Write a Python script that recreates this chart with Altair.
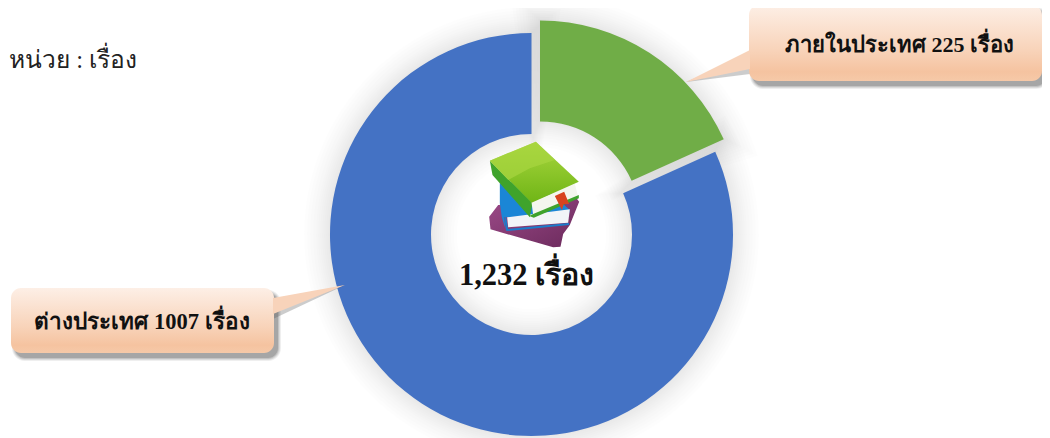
import base64
import altair as alt
import pandas as pd

# ---- chart values ----
categories = ["ภายในประเทศ", "ต่างประเทศ"]
values = [225, 1007]
total_label = "1,232 เรื่อง"
unit_label = "หน่วย : เรื่อง"
callout_labels = ["ภายในประเทศ 225 เรื่อง", "ต่างประเทศ 1007 เรื่อง"]
slice_colors = ["#70AD47", "#4472C4"]

W, H = 1034, 430
OFF = 8  # page margin: layout positions below are in page pixels
FONT = "Liberation Serif"

X = alt.X("x:Q", scale=alt.Scale(domain=[OFF, W + OFF], range=[0, W]), axis=None)
Y = alt.Y("y:Q", scale=alt.Scale(domain=[OFF, H + OFF], range=[0, H]), axis=None)

total = sum(values)
full = 6.283185307
a = values[0] / total * full

layout = {"green": (540, 222), "blue": (531.5, 234.5)}
R_OUT, R_IN = 201.5, 100.5

slices = pd.DataFrame([
    {"cat": categories[0], "value": values[0], "x": layout["green"][0], "y": layout["green"][1],
     "t0": 0.0, "t1": a},
    {"cat": categories[1], "value": values[1], "x": layout["blue"][0], "y": layout["blue"][1],
     "t0": a, "t1": full},
])


def arc_layer(grow, opacity, color=None):
    d = slices.copy()
    pad = grow / R_OUT
    d["t0"] = d["t0"] - pad
    d["t1"] = d["t1"] + pad
    mark = alt.Chart(d).mark_arc(
        radius=R_OUT + grow, radius2=max(R_IN - grow, 0), opacity=opacity,
        **({"color": color} if color else {}),
    )
    enc = dict(x=X, y=Y, theta=alt.Theta("t0:Q", scale=None), theta2="t1:Q")
    if not color:
        enc["color"] = alt.Color("cat:N", scale=alt.Scale(domain=categories, range=slice_colors), legend=None)
    return mark.encode(**enc)


# soft halo behind the doughnut
halo = [arc_layer(g, 0.0085, "#000000") for g in (26, 23, 20, 17, 14, 12, 10, 8, 6, 4, 2, 1)]
main = arc_layer(0, 1)


def shadow_rect(x0, x1, y0, y1, dx, dy):
    layers = []
    for g, op in ((3, 0.08), (2, 0.10), (1, 0.14), (0, 0.2)):
        d = pd.DataFrame({"x": [x0 + dx - g], "x2": [x1 + dx + g], "y": [y0 + dy - g], "y2": [y1 + dy + g]})
        layers.append(
            alt.Chart(d).mark_rect(color="#333333", opacity=op, cornerRadius=10 + g)
            .encode(x=X, x2="x2:Q", y=Y, y2="y2:Q")
        )
    return layers


grad = alt.Gradient(
    gradient="linear", x1=0, y1=0, x2=0, y2=1,
    stops=[
        alt.GradientStop(color="#FDEFE6", offset=0),
        alt.GradientStop(color="#F8D3B9", offset=0.6),
        alt.GradientStop(color="#F5C3A0", offset=0.88),
        alt.GradientStop(color="#F6C9A8", offset=1),
    ],
)


def callout(x0, x1, y0, y1, tip, base, side_x, text, tx, ty, size, color="#F8D3BA"):
    out = shadow_rect(x0, x1, y0, y1, 4, 5)
    # shadow of the pointer
    p = pd.DataFrame({"x": [tip[0], side_x], "y": [tip[1], base[0] + 5], "y2": [tip[1], base[1] + 5]})
    out.append(alt.Chart(p).mark_area(color="#555555", opacity=0.3).encode(x=X, y=Y, y2="y2:Q"))
    r = pd.DataFrame({"x": [x0], "x2": [x1], "y": [y0], "y2": [y1]})
    out.append(alt.Chart(r).mark_rect(color=grad, cornerRadius=10).encode(x=X, x2="x2:Q", y=Y, y2="y2:Q"))
    p2 = pd.DataFrame({"x": [tip[0], side_x], "y": [tip[1], base[0]], "y2": [tip[1], base[1]]})
    out.append(alt.Chart(p2).mark_area(color=color).encode(x=X, y=Y, y2="y2:Q"))
    t = pd.DataFrame({"x": [tx], "y": [ty], "t": [text]})
    out.append(
        alt.Chart(t).mark_text(font=FONT, fontSize=size, fontWeight="bold", color="#111111", align="center", baseline="middle")
        .encode(x=X, y=Y, text="t:N")
    )
    return out


top = callout(749, 1042, 5, 81, (686, 82), (50, 69), 750, callout_labels[0], 899.5, 45, 22)
bot = callout(11, 274, 288, 353, (345, 285), (298, 314), 273, callout_labels[1], 142, 322, 22.5)

# book icon, drawn as a small picture
svg = """<svg xmlns='http://www.w3.org/2000/svg' viewBox='170 30 285 330' width='95' height='110'>
<defs>
<linearGradient id='g' x1='0' y1='0' x2='0' y2='1'><stop offset='0' stop-color='#A9D63E'/><stop offset='1' stop-color='#6FB516'/></linearGradient>
<linearGradient id='p' x1='0' y1='0' x2='1' y2='1'><stop offset='0' stop-color='#9C4A88'/><stop offset='1' stop-color='#6B2A5C'/></linearGradient>
</defs>
<polygon points='205,225 178,260 182,298 370,352 392,350 400,312 420,285 448,215 440,205' fill='url(#p)'/>
<polygon points='210,160 320,150 420,240 418,250 232,262 222,262 228,300 216,262 210,220' fill='#1B86D6'/>
<polygon points='232,262 420,238 415,278 235,292' fill='#F2F5F8'/>
<polyline points='226,262 232,300 418,282' fill='none' stroke='#1B7CCB' stroke-width='6'/>
<polygon points='180,92 188,135 300,262 308,220' fill='#3FA32C'/>
<polygon points='305,215 435,162 445,200 310,255' fill='#F4F6EE'/>
<polygon points='298,258 312,263 447,205 447,195 310,252' fill='#3FA32C'/>
<polygon points='180,92 318,35 447,155 305,218' fill='url(#g)'/>
<polygon points='180,92 318,35 375,90 300,115 235,150' fill='#A8D640' opacity='0.7'/>
<polygon points='375,198 403,185 418,222 402,222 396,240' fill='#D8431F'/>
</svg>"""
icon_url = "data:image/svg+xml;base64," + base64.b64encode(svg.encode()).decode()
icon = alt.Chart(pd.DataFrame({"x": [534], "y": [195], "u": [icon_url]})).mark_image(width=95, height=110).encode(
    x=X, y=Y, url="u:N"
)

center = alt.Chart(pd.DataFrame({"x": [526.5], "y": [276], "t": [total_label]})).mark_text(
    font=FONT, fontSize=30.5, fontWeight="bold", color="#111111", align="center", baseline="middle"
).encode(x=X, y=Y, text="t:N")

unit = alt.Chart(pd.DataFrame({"x": [9], "y": [61], "t": [unit_label]})).mark_text(
    font=FONT, fontSize=24.5, color="#222222", align="left", baseline="middle"
).encode(x=X, y=Y, text="t:N")

chart = alt.layer(*halo, main, *top, *bot, icon, center, unit).properties(
    width=W, height=H, padding=0, autosize=alt.AutoSizeParams(type="none"), background="white"
).configure_view(stroke=None)

chart.save("out.html", embed_options={"renderer": "svg", "actions": False})
